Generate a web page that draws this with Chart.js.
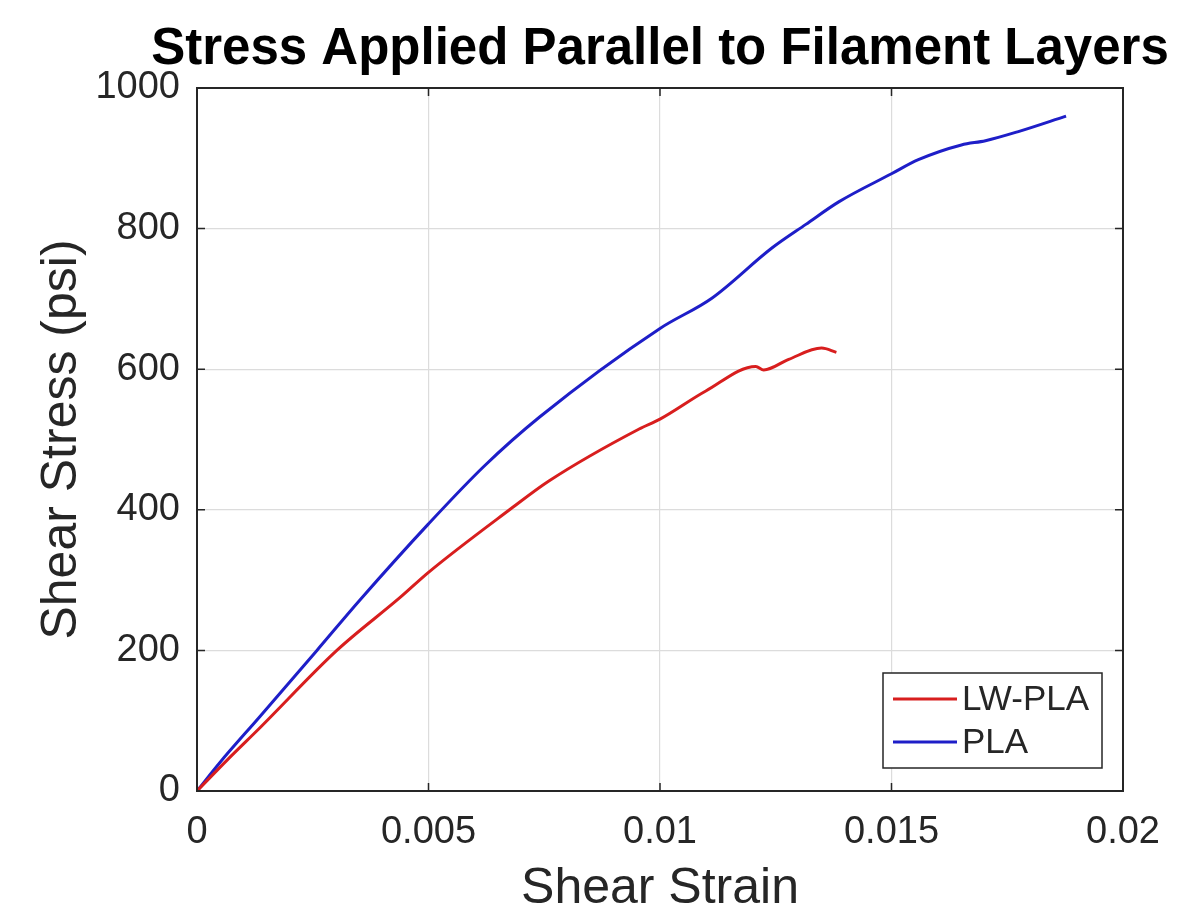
<!DOCTYPE html>
<html>
<head>
<meta charset="utf-8">
<script src="https://cdn.jsdelivr.net/npm/chart.js@4.4.0/dist/chart.umd.min.js"></script>
<style>
  html, body { margin: 0; padding: 0; background: #fff; }
  #wrap { width: 1183px; height: 909px; }
</style>
</head>
<body>
<div id="wrap"><canvas id="grafico" width="1183" height="909"></canvas></div>
<script>
// Dados (deformação, tensão em psi)
const strainLW = [0, 0.00065, 0.00136, 0.00302, 0.0044, 0.005, 0.00675, 0.0076, 0.00955, 0.01, 0.01099, 0.01207, 0.01224, 0.01278, 0.01349, 0.01381];
const stressLW = [0, 44, 90, 200, 276, 311, 400, 441, 515, 529, 569, 604, 599, 614, 630, 624];

const strainPLA = [0, 0.0005, 0.00136, 0.00259, 0.00351, 0.005, 0.0062, 0.0074, 0.01, 0.01112, 0.01241, 0.01315, 0.01386, 0.015, 0.01558, 0.01651, 0.01703, 0.01774, 0.01877];
const stressPLA = [0, 41, 106, 200, 271, 380, 462, 532, 658, 701, 772, 806, 838, 878, 898, 919, 925, 938, 960];

const xTicks = [0, 0.005, 0.01, 0.015, 0.02];
const yTicks = [0, 200, 400, 600, 800, 1000];

const nomes = ['LW-PLA', 'PLA'];
const cores = ['#d81e1e', '#1e1ec8'];
const titulo = 'Stress Applied Parallel to Filament Layers';

const fonte = 'Liberation Sans, Arial, Helvetica, sans-serif';
const corTexto = '#262626';

// Título, moldura, marcas internas e legenda (estilo MATLAB)
const moldura = {
    id: 'moldura',
    afterDatasetsDraw(chart) {
        const { ctx, chartArea: a, scales } = chart;
        ctx.save();
        ctx.strokeStyle = corTexto;
        ctx.lineWidth = 2;
        ctx.strokeRect(a.left, a.top, a.right - a.left, a.bottom - a.top);
        ctx.lineWidth = 1.5;
        const tl = 8;
        xTicks.forEach(v => {
            const px = scales.x.getPixelForValue(v);
            ctx.beginPath();
            ctx.moveTo(px, a.bottom); ctx.lineTo(px, a.bottom - tl);
            ctx.moveTo(px, a.top); ctx.lineTo(px, a.top + tl);
            ctx.stroke();
        });
        yTicks.forEach(v => {
            const py = scales.y.getPixelForValue(v);
            ctx.beginPath();
            ctx.moveTo(a.left, py); ctx.lineTo(a.left + tl, py);
            ctx.moveTo(a.right, py); ctx.lineTo(a.right - tl, py);
            ctx.stroke();
        });

        // título centrado sobre a área do gráfico
        ctx.fillStyle = '#000';
        ctx.font = 'bold 51px ' + fonte;
        ctx.textAlign = 'center';
        ctx.textBaseline = 'alphabetic';
        ctx.fillText(titulo, (a.left + a.right) / 2, 64);

        // legenda
        const w = 219, h = 95;
        const x0 = a.right - 21 - w, y0 = a.bottom - 23 - h;
        ctx.fillStyle = '#fff';
        ctx.fillRect(x0, y0, w, h);
        ctx.strokeStyle = corTexto;
        ctx.lineWidth = 1.5;
        ctx.strokeRect(x0, y0, w, h);
        ctx.font = '35px ' + fonte;
        ctx.textAlign = 'left';
        ctx.textBaseline = 'middle';
        chart.data.datasets.forEach((ds, i) => {
            const yy = y0 + 26 + i * 43;
            ctx.strokeStyle = ds.borderColor;
            ctx.lineWidth = 3;
            ctx.beginPath();
            ctx.moveTo(x0 + 10, yy); ctx.lineTo(x0 + 74, yy);
            ctx.stroke();
            ctx.fillStyle = corTexto;
            ctx.fillText(ds.label, x0 + 79, yy + 1);
        });
        ctx.restore();
    }
};

const ctxGrafico = document.getElementById('grafico').getContext('2d');
new Chart(ctxGrafico, {
    type: 'line',
    data: {
        datasets: [
            {
                label: nomes[0],
                data: strainLW.map((x, i) => ({ x: x, y: stressLW[i] })),
                borderColor: cores[0],
            },
            {
                label: nomes[1],
                data: strainPLA.map((x, i) => ({ x: x, y: stressPLA[i] })),
                borderColor: cores[1],
            }
        ]
    },
    options: {
        responsive: false,
        animation: false,
        layout: { padding: { left: 0, right: 60, top: 88, bottom: 0 } },
        elements: {
            point: { radius: 0 },
            line: { borderWidth: 3, cubicInterpolationMode: 'monotone', fill: false }
        },
        plugins: {
            legend: { display: false },
            tooltip: { enabled: false },
            title: { display: false }
        },
        scales: {
            x: {
                type: 'linear',
                min: 0,
                max: 0.02,
                afterBuildTicks: s => { s.ticks = xTicks.map(v => ({ value: v })); },
                afterFit: s => { s.height = 118; },
                ticks: {
                    color: corTexto,
                    font: { family: fonte, size: 38 },
                    padding: 19,
                    maxRotation: 0,
                    callback: v => String(v)
                },
                grid: { color: '#dcdcdc', lineWidth: 1.2, drawTicks: false },
                border: { display: false },
                title: {
                    display: true,
                    text: 'Shear Strain',
                    color: corTexto,
                    font: { family: fonte, size: 50 },
                    padding: { top: 0, bottom: -10 }
                }
            },
            y: {
                type: 'linear',
                min: 0,
                max: 1000,
                afterBuildTicks: s => { s.ticks = yTicks.map(v => ({ value: v })); },
                afterFit: s => { s.width = 197; },
                ticks: {
                    color: corTexto,
                    font: { family: fonte, size: 38 },
                    padding: 17,
                    callback: v => String(v)
                },
                grid: { color: '#dcdcdc', lineWidth: 1.2, drawTicks: false },
                border: { display: false },
                title: {
                    display: true,
                    text: 'Shear Stress (psi)',
                    color: corTexto,
                    font: { family: fonte, size: 50 },
                    padding: { top: 32, bottom: 0 }
                }
            }
        }
    },
    plugins: [moldura]
});
</script>
</body>
</html>
